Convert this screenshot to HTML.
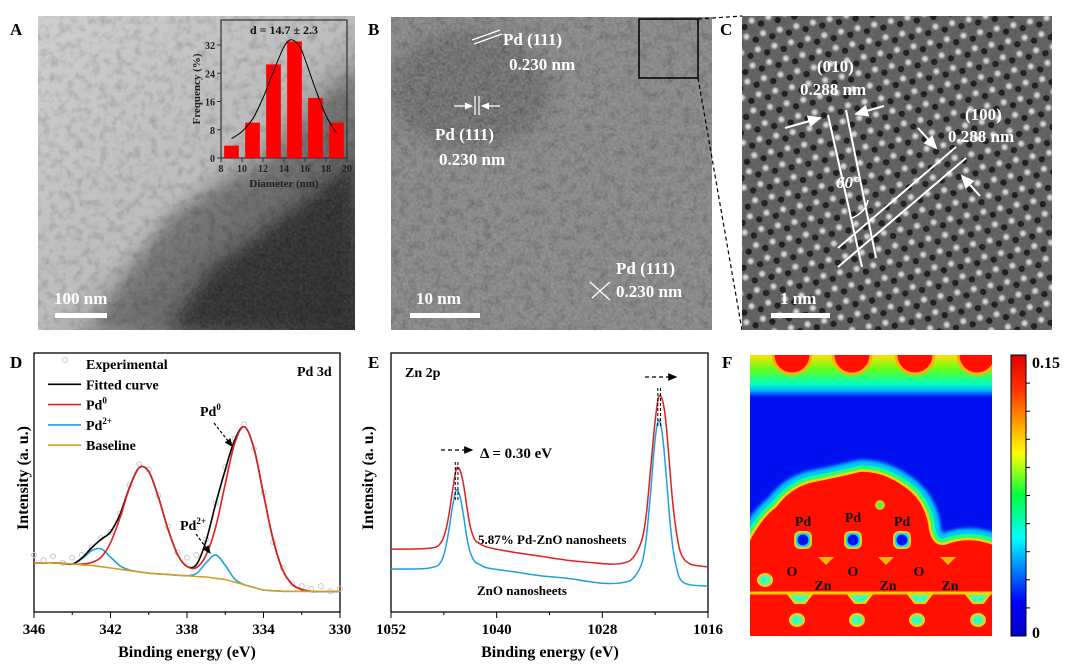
<!DOCTYPE html>
<html><head><meta charset="utf-8"><style>
html,body{margin:0;padding:0;background:#fff;}
svg{display:block;font-family:"Liberation Serif",serif;font-weight:bold;}
</style></head><body>
<svg id="fig" width="1080" height="665" viewBox="0 0 1080 665" xmlns="http://www.w3.org/2000/svg">
<defs>
  <filter id="noise" x="0" y="0" width="100%" height="100%">
    <feTurbulence type="fractalNoise" baseFrequency="0.35" numOctaves="2" seed="3"/>
    <feColorMatrix type="matrix" values="0 0 0 0 0.5  0 0 0 0 0.5  0 0 0 0 0.5  0 0 0 1.2 -0.35"/>
  </filter>
  <filter id="noiseDark" x="0" y="0" width="100%" height="100%">
    <feTurbulence type="fractalNoise" baseFrequency="0.12" numOctaves="3" seed="7"/>
    <feColorMatrix type="matrix" values="0 0 0 0 0  0 0 0 0 0  0 0 0 0 0  0 0 0 1.6 -0.7"/>
  </filter>
  <filter id="blur6" x="-50%" y="-50%" width="200%" height="200%"><feGaussianBlur stdDeviation="8"/></filter>
  <filter id="blur2" x="-20%" y="-20%" width="140%" height="140%"><feGaussianBlur stdDeviation="1.5"/></filter>
  <linearGradient id="gA" x1="0" y1="0" x2="1" y2="1">
    <stop offset="0" stop-color="#d0d0d0"/><stop offset="0.5" stop-color="#bdbdbd"/><stop offset="0.75" stop-color="#6a6a6a"/><stop offset="1" stop-color="#2a2a2a"/>
  </linearGradient>
  <radialGradient id="dot" cx="0.5" cy="0.5" r="0.5">
    <stop offset="0" stop-color="#f0f0f0"/><stop offset="0.5" stop-color="#b0b0b0"/><stop offset="1" stop-color="#606060" stop-opacity="0"/>
  </radialGradient>
  <pattern id="lattice" width="17" height="29.4" patternUnits="userSpaceOnUse" patternTransform="rotate(-12)">
    <rect width="17" height="29.4" fill="#5e5e5e"/>
    <circle cx="8.5" cy="4.9" r="3.2" fill="#1c1c1c"/><circle cx="0" cy="19.6" r="3.2" fill="#1c1c1c"/><circle cx="17" cy="19.6" r="3.2" fill="#1c1c1c"/>
    <circle cx="0" cy="0" r="5" fill="url(#dot)"/><circle cx="17" cy="0" r="5" fill="url(#dot)"/>
    <circle cx="0" cy="29.4" r="5" fill="url(#dot)"/><circle cx="17" cy="29.4" r="5" fill="url(#dot)"/>
    <circle cx="8.5" cy="14.7" r="5" fill="url(#dot)"/>
  </pattern>
  <linearGradient id="jet" x1="0" y1="1" x2="0" y2="0">
    <stop offset="0" stop-color="#0000c8"/><stop offset="0.12" stop-color="#0000ff"/><stop offset="0.35" stop-color="#00ffff"/>
    <stop offset="0.5" stop-color="#00ff40"/><stop offset="0.65" stop-color="#ffff00"/><stop offset="0.88" stop-color="#ff3000"/><stop offset="1" stop-color="#e00000"/>
  </linearGradient>
  <linearGradient id="topGrad" x1="0" y1="0" x2="0" y2="1">
    <stop offset="0" stop-color="#ffe000"/><stop offset="0.35" stop-color="#60ff20"/><stop offset="0.7" stop-color="#00ffc0"/><stop offset="0.85" stop-color="#00b0ff"/><stop offset="1" stop-color="#0010f0"/>
  </linearGradient>
  <marker id="arr" markerWidth="8" markerHeight="8" refX="6" refY="3" orient="auto"><path d="M0,0 L7,3 L0,6 Z" fill="#000"/></marker>
  <marker id="arrW" markerWidth="8" markerHeight="8" refX="6" refY="3" orient="auto"><path d="M0,0 L7,3 L0,6 Z" fill="#fff"/></marker>
  <clipPath id="clipF"><rect x="750" y="355" width="242" height="281"/></clipPath>
  <clipPath id="clipA"><rect x="38" y="16" width="317" height="314"/></clipPath>
  <clipPath id="clipB"><rect x="391" y="17" width="321" height="313"/></clipPath>
</defs>

<!-- Panel A -->
<g>
  <g clip-path="url(#clipA)">
    <rect x="38" y="16" width="317" height="314" fill="url(#gA)"/>
    <path d="M90,330 L130,270 L170,215 L220,185 L270,160 L320,100 L355,70 L355,330 Z" fill="#555" opacity="0.6" filter="url(#blur6)"/>
    <path d="M170,330 L210,270 L260,235 L320,190 L355,160 L355,330 Z" fill="#202020" opacity="0.75" filter="url(#blur6)"/>
    <rect x="38" y="16" width="317" height="314" filter="url(#noiseDark)" opacity="0.22"/>
    <rect x="38" y="16" width="317" height="314" filter="url(#noise)" opacity="0.2"/>
  </g>
  <text x="10" y="35" font-size="17" fill="#000">A</text>
  <text x="54" y="304" font-size="17" fill="#fff">100 nm</text>
  <rect x="55" y="313" width="52" height="5" fill="#fff"/>
</g>

<!-- Inset histogram -->
<g id="inset">
  <rect x="221" y="20" width="126" height="138" fill="none" stroke="#333" stroke-width="1.2"/>
</g>

<!-- Panel B -->
<g>
  <g clip-path="url(#clipB)">
    <rect x="391" y="17" width="321" height="313" fill="#858585"/>
    <ellipse cx="470" cy="90" rx="80" ry="60" fill="#555" opacity="0.5" filter="url(#blur6)"/>
    <rect x="391" y="17" width="321" height="313" filter="url(#noiseDark)" opacity="0.25"/>
    <rect x="391" y="17" width="321" height="313" filter="url(#noise)" opacity="0.5"/>
  </g>
  <rect x="639" y="19" width="59" height="59" fill="none" stroke="#000" stroke-width="1.5"/>
  <line x1="698" y1="19" x2="742" y2="16" stroke="#000" stroke-width="1.2" stroke-dasharray="4,3"/>
  <line x1="698" y1="78" x2="742" y2="330" stroke="#000" stroke-width="1.2" stroke-dasharray="4,3"/>
  <text x="368" y="35" font-size="17" fill="#000">B</text>
  <g fill="#fff" font-size="17">
    <text x="503" y="45">Pd (111)</text><text x="509" y="70">0.230 nm</text>
    <text x="435" y="140">Pd (111)</text><text x="439" y="165">0.230 nm</text>
    <text x="616" y="274">Pd (111)</text><text x="616" y="297">0.230 nm</text>
  </g>
  <g stroke="#fff" stroke-width="1.2">
    <line x1="472" y1="40" x2="500" y2="30"/><line x1="474" y1="44" x2="502" y2="34"/>
    <line x1="475" y1="96" x2="475" y2="115"/><line x1="479" y1="96" x2="479" y2="115"/>
    <line x1="454" y1="106" x2="472" y2="106" marker-end="url(#arrW)"/><line x1="500" y1="106" x2="482" y2="106" marker-end="url(#arrW)"/>
    <line x1="590" y1="282" x2="610" y2="300"/><line x1="592" y1="298" x2="610" y2="282"/>
  </g>
  <text x="416" y="304" font-size="17" fill="#fff">10 nm</text>
  <rect x="410" y="313" width="70" height="5" fill="#fff"/>
</g>

<!-- Panel C -->
<g>
  <rect x="742" y="16" width="310" height="314" fill="url(#lattice)"/>
  <rect x="742" y="16" width="310" height="314" filter="url(#noise)" opacity="0.15"/>
  <text x="720" y="35" font-size="17" fill="#000">C</text>
  <g fill="#fff" font-size="17">
    <text x="817" y="72">(010)</text><text x="800" y="95">0.288 nm</text>
    <text x="965" y="120">(100)</text><text x="948" y="142">0.288 nm</text>
    <text x="836" y="188" font-style="italic">60°</text>
    <text x="780" y="304">1 nm</text>
  </g>
  <g stroke="#fff" stroke-width="2">
    <line x1="828" y1="115" x2="862" y2="267"/><line x1="846" y1="110" x2="876" y2="258"/>
    <line x1="838" y1="248" x2="956" y2="147"/><line x1="838" y1="267" x2="966" y2="158"/>
    <line x1="785" y1="128" x2="820" y2="118" marker-end="url(#arrW)"/><line x1="884" y1="106" x2="856" y2="114" marker-end="url(#arrW)"/>
    <line x1="918" y1="128" x2="936" y2="148" marker-end="url(#arrW)"/><line x1="980" y1="196" x2="962" y2="176" marker-end="url(#arrW)"/>
    <path d="M852,218 Q866,212 868,200" fill="none" stroke-width="1.5"/>
  </g>
  <rect x="771" y="313" width="59" height="5" fill="#fff"/>
</g>

<!-- Panel D -->
<g id="panelD">
  <text x="10" y="368" font-size="17">D</text>
  <rect x="34" y="353" width="306" height="259" fill="none" stroke="#000" stroke-width="1.3"/>
  <text transform="translate(28,478) rotate(-90)" text-anchor="middle" font-size="16">Intensity (a. u.)</text>
  <text x="187" y="657" text-anchor="middle" font-size="16">Binding energy (eV)</text>
  <text x="297" y="376" font-size="14">Pd 3d</text>
</g>

<!-- Panel E -->
<g id="panelE">
  <text x="368" y="368" font-size="17">E</text>
  <rect x="391" y="353" width="317" height="259" fill="none" stroke="#000" stroke-width="1.3"/>
  <text transform="translate(373,478) rotate(-90)" text-anchor="middle" font-size="16">Intensity (a. u.)</text>
  <text x="550" y="657" text-anchor="middle" font-size="16">Binding energy (eV)</text>
  <text x="405" y="377" font-size="14">Zn 2p</text>
  <text x="480" y="458" font-size="15">Δ = 0.30 eV</text>
  <line x1="441" y1="450" x2="472" y2="450" stroke="#000" stroke-width="1.3" stroke-dasharray="4,3" marker-end="url(#arr)"/>
  <line x1="645" y1="377" x2="676" y2="377" stroke="#000" stroke-width="1.3" stroke-dasharray="4,3" marker-end="url(#arr)"/>
  <text x="478" y="544" font-size="13">5.87% Pd-ZnO nanosheets</text>
  <text x="477" y="595" font-size="13">ZnO nanosheets</text>
</g>

<!-- Panel F -->
<g>
  <text x="722" y="368" font-size="17">F</text>
  <g clip-path="url(#clipF)">
    <rect x="750" y="355" width="242" height="281" fill="#0010f0"/>
    <g id="topband">
      <rect x="750" y="355" width="242" height="42" fill="url(#topGrad)"/>
      <g fill="#ff1000" stroke="#ffb000" stroke-width="3">
        <circle cx="792" cy="355" r="19"/><circle cx="852" cy="355" r="19"/><circle cx="915" cy="355" r="19"/><circle cx="977" cy="355" r="19"/>
      </g>
    </g>
    <g id="blob" stroke-linejoin="round">
      <path d="M745,553 Q760,520 777,508 Q790,490 810,484 Q840,478 860,473 Q880,472 900,485 Q925,500 928,530 Q932,548 945,546 Q970,536 995,547 L995,640 L745,640 Z" fill="#ff1000" stroke="#00c8ff" stroke-width="26" filter="url(#blur2)"/>
      <path d="M745,553 Q760,520 777,508 Q790,490 810,484 Q840,478 860,473 Q880,472 900,485 Q925,500 928,530 Q932,548 945,546 Q970,536 995,547 L995,640 L745,640 Z" fill="#ff1000" stroke="#20ff80" stroke-width="15"/>
      <path d="M745,553 Q760,520 777,508 Q790,490 810,484 Q840,478 860,473 Q880,472 900,485 Q925,500 928,530 Q932,548 945,546 Q970,536 995,547 L995,640 L745,640 Z" fill="#ff1000" stroke="#ffd000" stroke-width="7"/>
      <path d="M745,553 Q760,520 777,508 Q790,490 810,484 Q840,478 860,473 Q880,472 900,485 Q925,500 928,530 Q932,548 945,546 Q970,536 995,547 L995,640 L745,640 Z" fill="#ff1000" stroke="#ff1000" stroke-width="2"/>
      <g stroke="#ffcc00" stroke-width="2">
        <rect x="795" y="532" width="16" height="16" rx="5" fill="#00e0ff"/><rect x="845" y="532" width="16" height="16" rx="5" fill="#00e0ff"/><rect x="894" y="532" width="16" height="16" rx="5" fill="#00e0ff"/>
      </g>
      <g fill="#0010f0"><circle cx="803" cy="540" r="5.5"/><circle cx="853" cy="540" r="5.5"/><circle cx="902" cy="540" r="5.5"/></g>
      <circle cx="880" cy="505" r="4" fill="#40ff40" stroke="#ffcc00" stroke-width="1.5"/>
      <g fill="#ffe000" opacity="0.8">
        <path d="M818,557 L834,557 L826,565 Z"/><path d="M878,557 L894,557 L886,565 Z"/><path d="M940,557 L956,557 L948,565 Z"/>
      </g>
      <line x1="750" y1="593" x2="992" y2="593" stroke="#ffd000" stroke-width="3"/>
      <g fill="#40ffb0" stroke="#ffd000" stroke-width="2">
        <path d="M788,594 L812,594 L805,603 L795,603 Z"/><path d="M848,594 L872,594 L865,603 L855,603 Z"/><path d="M908,594 L932,594 L925,603 L915,603 Z"/><path d="M966,594 L990,594 L983,603 L973,603 Z"/>
        <ellipse cx="765" cy="580" rx="7" ry="6"/>
        <ellipse cx="797" cy="620" rx="7" ry="6"/><ellipse cx="857" cy="620" rx="7" ry="6"/><ellipse cx="917" cy="620" rx="7" ry="6"/><ellipse cx="978" cy="620" rx="7" ry="6"/>
      </g>
    </g>
  </g>
  <g font-size="14" fill="#111">
    <text x="803" y="526" text-anchor="middle">Pd</text><text x="853" y="522" text-anchor="middle">Pd</text><text x="902" y="526" text-anchor="middle">Pd</text>
    <text x="792" y="576" text-anchor="middle">O</text><text x="853" y="576" text-anchor="middle">O</text><text x="919" y="576" text-anchor="middle">O</text>
    <text x="823" y="590" text-anchor="middle">Zn</text><text x="888" y="590" text-anchor="middle">Zn</text><text x="950" y="590" text-anchor="middle">Zn</text>
  </g>
  <rect x="1011" y="355" width="15" height="281" fill="url(#jet)" stroke="#000" stroke-width="1"/>
  <g id="cbticks" stroke="#000" stroke-width="1"></g>
  <text x="1032" y="368" font-size="16">0.15</text>
  <text x="1032" y="638" font-size="16">0</text>
</g>
</svg>
<script>
// ---- Inset histogram data ----
const histBins = [9, 11, 13, 15, 17, 19];
const histFreq = [3.5, 10, 26.5, 33, 17, 10];
const histFitX = [9, 10, 11, 12, 13, 14, 14.7, 15.5, 16, 17, 18, 19];
const histFitY = [5.5, 7.5, 11, 17, 24.5, 31.5, 33.5, 31.5, 28, 19.5, 12, 7];
const histYTicks = [0, 8, 16, 24, 32];
const histXTicks = [8, 10, 12, 14, 16, 18, 20];

// ---- Panel D data (Pd 3d XPS) ----
const dEnergy = [346,345.5,345,344.5,344,343.5,343,342.5,342,341.5,341,340.5,340,339.5,339,338.5,338,337.5,337,336.5,336,335.5,335,334.5,334,333.5,333,332.5,332,331.5,331,330.5,330];
const dPd0 = [19,19,19,18.8,18.5,18.5,19.1,21.1,26.7,36.5,48,55.7,54.2,44.5,32.1,22.3,17.6,17.2,22,32.8,49.5,65.3,71.5,63.3,45.5,28,16.3,10.7,8.7,8,8,8,8];
const dPd2 = [19,19,19,18.7,18.5,20.5,23.6,24.4,21.2,17.8,16.2,15.5,15,14.7,14.5,14.2,14,14.9,19,22,18,12.7,10.5,9.5,8.5,8.2,8,8,8,8,8,8,8];
const dFit = [19,19,19,18.8,18.5,20.8,24.7,28,30.9,37.8,48.2,55.7,54.2,44.5,32.1,22.3,17.6,18.4,27.5,41.8,55,66.5,71.5,63.3,45.5,28,16.3,10.7,8.7,8,8,8,8];
const dBase = [19,19,19,18.7,18.5,18.2,18,17.5,17,16.5,16,15.5,15,14.7,14.5,14.2,14,13.7,13.5,13,12.5,11.5,10.5,9.5,8.5,8.2,8,8,8,8,8,8,8];
const dExp = [22,20,21.5,19,21,22,25,28.5,31,38,49,57,55,45,33,23,21,22,28,42,56,67,72.5,63,46,27,17,11,10,9,10,8,9];
const dTicks = [346, 342, 338, 334, 330];
const dMinorTicks = [344, 340, 336, 332];

// ---- Panel E data (Zn 2p XPS) ----
const eEnergy = [1052,1050,1048,1047,1046.5,1046,1045.5,1045,1044.6,1044.2,1043.8,1043.4,1043,1042.5,1042,1041,1038,1035,1032,1029,1027,1025.5,1024.5,1023.5,1023,1022.5,1022,1021.6,1021.2,1020.8,1020.4,1020,1019.5,1019,1018,1016];
const ePdZnO = [24.3,24.3,24.5,25,26,29,36,47,55,55,50,41,33,28,26.5,25,23,21.5,20,19,18.5,19,21,28,38,56,74,83,82,74,58,42,29,22,18.5,17.4];
const eZnO = [16.6,16.6,16.8,17.5,18.5,22,30,41,47,45,38,29,23,19.5,18.5,17,15.5,14,13,11.5,11,11.5,13,19,29,47,67,74,69,55,38,25,16,12,10.5,10];
const eTicks = [1052, 1040, 1028, 1016];
const eMinorTicks = [1046, 1034, 1022];
const ePeakRed = [1044.4, 1021.4];
const ePeakBlue = [1044.7, 1021.7];

const NS = 'http://www.w3.org/2000/svg';
function mk(tag, attrs, parent) {
  const el = document.createElementNS(NS, tag);
  for (const k in attrs) el.setAttribute(k, attrs[k]);
  parent.appendChild(el);
  return el;
}
function smoothPath(pts) {
  let d = 'M' + pts[0][0].toFixed(1) + ',' + pts[0][1].toFixed(1);
  for (let i = 0; i < pts.length - 1; i++) {
    const p0 = pts[Math.max(0, i - 1)], p1 = pts[i], p2 = pts[i + 1], p3 = pts[Math.min(pts.length - 1, i + 2)];
    const c1x = p1[0] + (p2[0] - p0[0]) / 6, c1y = p1[1] + (p2[1] - p0[1]) / 6;
    const c2x = p2[0] - (p3[0] - p1[0]) / 6, c2y = p2[1] - (p3[1] - p1[1]) / 6;
    d += ' C' + c1x.toFixed(1) + ',' + c1y.toFixed(1) + ' ' + c2x.toFixed(1) + ',' + c2y.toFixed(1) + ' ' + p2[0].toFixed(1) + ',' + p2[1].toFixed(1);
  }
  return d;
}

// Inset
const inset = document.getElementById('inset');
const hx = v => 221 + (v - 8) * (126 / 12);
const hy = v => 158 - v * (113 / 32);
histFreq.forEach((f, i) => {
  const r = mk('rect', {x: hx(histBins[i] - 0.7), y: hy(f), width: hx(1.4) - hx(0), height: hy(0) - hy(f), fill: '#ff0000'}, inset);
  
  
});
const fit = mk('path', {d: smoothPath(histFitX.map((x, i) => [hx(x), hy(histFitY[i])])), fill: 'none', stroke: '#000', 'stroke-width': 1}, inset);


histYTicks.forEach(t => {
  mk('line', {x1: 221, x2: 217, y1: hy(t), y2: hy(t), stroke: '#333'}, inset);
  const tx = mk('text', {x: 215, y: hy(t) + 4, 'text-anchor': 'end', 'font-size': 10, fill: '#222'}, inset);
  tx.textContent = t;
});
histXTicks.forEach(t => {
  mk('line', {x1: hx(t), x2: hx(t), y1: 158, y2: 162, stroke: '#333'}, inset);
  const tx = mk('text', {x: hx(t), y: 172, 'text-anchor': 'middle', 'font-size': 10, fill: '#222'}, inset);
  tx.textContent = t;
});
const inT = mk('text', {x: 284, y: 34, 'text-anchor': 'middle', 'font-size': 12, fill: '#111'}, inset);
inT.textContent = 'd = 14.7 ± 2.3';
const inX = mk('text', {x: 284, y: 187, 'text-anchor': 'middle', 'font-size': 11, fill: '#222'}, inset);
inX.textContent = 'Diameter (nm)';
const inY = mk('text', {transform: 'translate(200,89) rotate(-90)', 'text-anchor': 'middle', 'font-size': 11, fill: '#222'}, inset);
inY.textContent = 'Frequency (%)';

// Panel D
const gD = document.getElementById('panelD');
const dx = v => 34 + (346 - v) * (306 / 16);
const dy = v => 612 - v * 2.59;
dExp.forEach((v, i) => {
  const c = mk('circle', {cx: dx(dEnergy[i]), cy: dy(v), r: 2.5, fill: 'none', stroke: '#c8c8c8', 'stroke-width': 1}, gD);
  
  
});
const dSeries = [[dPd2, '#1ea0e0', 'pd2-curve'], [dFit, '#000', 'fitted-curve'], [dPd0, '#e02020', 'pd0-curve'], [dBase, '#d4a020', 'baseline-curve']];
dSeries.forEach(s => {
  const p = mk('path', {d: smoothPath(dEnergy.map((x, i) => [dx(x), dy(s[0][i])])), fill: 'none', stroke: s[1], 'stroke-width': 1.6}, gD);
  
  
});
dTicks.forEach(t => {
  mk('line', {x1: dx(t), x2: dx(t), y1: 612, y2: 618, stroke: '#000'}, gD);
  const tx = mk('text', {x: dx(t), y: 634, 'text-anchor': 'middle', 'font-size': 15}, gD);
  tx.textContent = t;
});
dMinorTicks.forEach(t => mk('line', {x1: dx(t), x2: dx(t), y1: 612, y2: 615, stroke: '#000'}, gD));
// legend
const legD = [['Experimental', null], ['Fitted curve', '#000'], ['Pd', '#e02020', '0'], ['Pd', '#1ea0e0', '2+'], ['Baseline', '#d4a020']];
legD.forEach((l, i) => {
  const y = 369 + i * 20.3;
  const g = mk('g', {}, gD);
  
  
  if (l[1]) mk('line', {x1: 48, x2: 81, y1: y - 5, y2: y - 5, stroke: l[1], 'stroke-width': 1.6}, g);
  else mk('circle', {cx: 65, cy: y - 9, r: 2.5, fill: 'none', stroke: '#c8c8c8'}, g);
  const t = mk('text', {x: 86, y: y, 'font-size': 14}, g);
  t.textContent = l[0];
  if (l[2]) { const s = mk('tspan', {dy: -6, 'font-size': 9}, t); s.textContent = l[2]; }
});
const pd0 = mk('text', {x: 200, y: 416, 'font-size': 14}, gD); pd0.textContent = 'Pd';
const pd0s = mk('tspan', {dy: -6, 'font-size': 9}, pd0); pd0s.textContent = '0';
mk('line', {x1: 214, y1: 423, x2: 232, y2: 446, stroke: '#000', 'stroke-width': 1.2, 'stroke-dasharray': '3,2', 'marker-end': 'url(#arr)'}, gD);
const pd2 = mk('text', {x: 180, y: 530, 'font-size': 14}, gD); pd2.textContent = 'Pd';
const pd2s = mk('tspan', {dy: -6, 'font-size': 9}, pd2); pd2s.textContent = '2+';
mk('line', {x1: 196, y1: 534, x2: 210, y2: 553, stroke: '#000', 'stroke-width': 1.2, 'stroke-dasharray': '3,2', 'marker-end': 'url(#arr)'}, gD);

// Panel E
const gE = document.getElementById('panelE');
const ex = v => 391 + (1052 - v) * (317 / 36);
const ey = v => 612 - v * 2.59;
[[eZnO, '#1ea0e0', 'zno-curve'], [ePdZnO, '#e02020', 'pd-zno-curve']].forEach(s => {
  const p = mk('path', {d: smoothPath(eEnergy.map((x, i) => [ex(x), ey(s[0][i])])), fill: 'none', stroke: s[1], 'stroke-width': 1.5}, gE);
  
  
});
[ePeakRed, ePeakBlue].forEach(arr => arr.forEach(v => {
  const top = v > 1030 ? 462 : 388;
  mk('line', {x1: ex(v), x2: ex(v), y1: top, y2: top + 38, stroke: '#000', 'stroke-width': 1, 'stroke-dasharray': '3,2'}, gE);
}));
eTicks.forEach(t => {
  mk('line', {x1: ex(t), x2: ex(t), y1: 612, y2: 618, stroke: '#000'}, gE);
  const tx = mk('text', {x: ex(t), y: 634, 'text-anchor': 'middle', 'font-size': 15}, gE);
  tx.textContent = t;
});
eMinorTicks.forEach(t => mk('line', {x1: ex(t), x2: ex(t), y1: 612, y2: 615, stroke: '#000'}, gE));

// Colorbar ticks
const cb = document.getElementById('cbticks');
for (let i = 1; i < 10; i++) { const y = 355 + i * 28.1; mk('line', {x1: 1026, x2: 1030, y1: y, y2: y}, cb); }
</script>
</body></html>
